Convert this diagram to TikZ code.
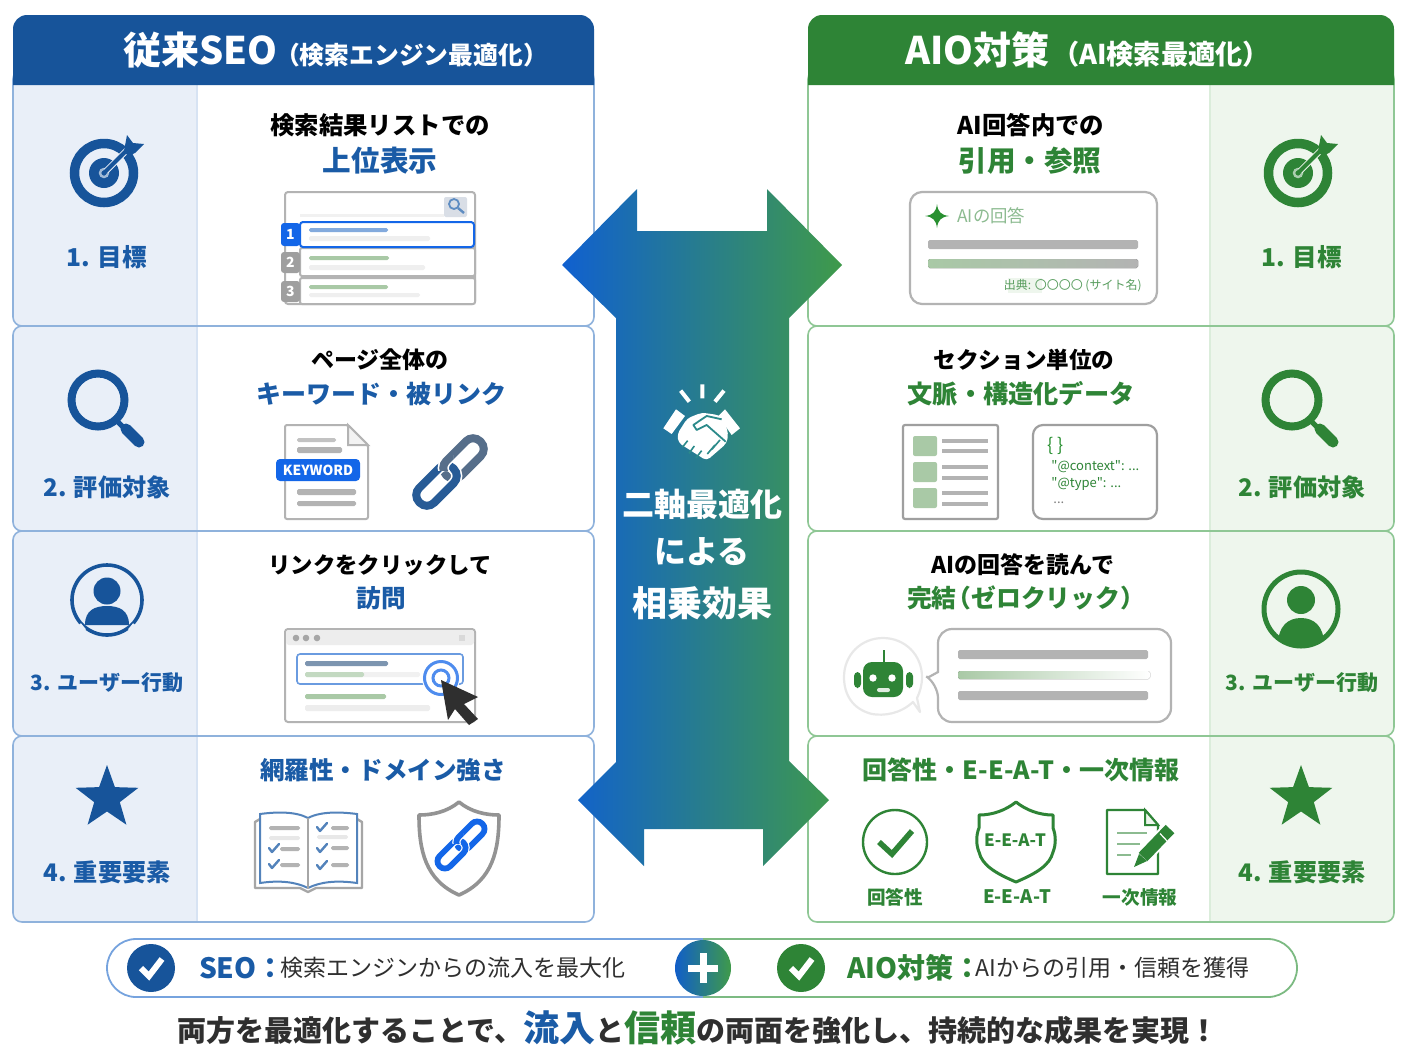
\documentclass[tikz,border=0pt]{standalone}
\usepackage{fontspec}
\setmainfont{Noto Sans CJK JP}
\newfontfamily\plainjp{Noto Sans CJK JP}
\usetikzlibrary{shapes.geometric}
\definecolor{seo}{HTML}{17549A}
\definecolor{seotx}{HTML}{1A5BA6}
\definecolor{aio}{HTML}{2E8436}
\definecolor{seoline}{HTML}{8FB2DC}
\definecolor{aioline}{HTML}{8FC795}
\definecolor{seoside}{HTML}{E9EFF8}
\definecolor{aioside}{HTML}{EEF6ED}
\definecolor{grayln}{HTML}{B3B3B3}
\definecolor{grayl}{HTML}{E8E8E8}
\definecolor{hiblue}{HTML}{1366E8}
\definecolor{softgreen}{HTML}{A9C9A6}
\definecolor{ink}{HTML}{2F2F2F}
\definecolor{arrowl}{HTML}{1060D0}
\definecolor{arrowm}{HTML}{2B8A8A}
\definecolor{arrowr}{HTML}{3F9A4A}
\newcommand\fz[1]{\fontsize{#1pt}{#1pt}\selectfont}
\tikzset{
  lbl/.style={inner sep=0pt,outer sep=0pt,font=\bfseries},
  rowline/.style={line width=0.8pt},
  frame/.style={draw=grayln,line width=1pt,fill=white},
}
% bar from x0,y0 to x1,y1
\newcommand\mybar[5]{\fill[#5,rounded corners=0.8pt] (#1,#2) rectangle (#3,#4);}
\newcommand\icontarget[4]{%
 \begin{scope}[shift={(#1,#2)}]
  \draw[#3,line width=4.75pt] (0,0) circle (29.5);
  \fill[#3] (0,0) circle (15);
  \draw[white!60!#3,line width=1.2pt] (0,0) circle (4);
  \draw[#4,line width=3pt] (2,-2) -- (44,-44);
  \draw[#3,line width=2pt] (0,0) -- (28,-28);
  \fill[#3] (20,-22) -- (23,-38) -- (29,-30) -- (40,-29) -- (31,-20) -- (24,-17) -- cycle;
 \end{scope}}
\newcommand\iconmag[3]{%
 \begin{scope}[shift={(#1,#2)}]
  \draw[#3,line width=4pt] (0,0) circle (26.5);
  \draw[#3,line width=2.5pt] (18,20) -- (28,30);
  \draw[#3,line width=5.5pt,line cap=round] (28,29) -- (41,42);
 \end{scope}}
\newcommand\iconstar[4]{\node[star,star points=5,star point ratio=2.45,fill=#4,minimum size=33pt,inner sep=0pt] (#1) at (#2,#3) {};}
\newcommand\iconlink[6]{% cx cy scale upper lower stroke(pt)
 \begin{scope}[shift={(#1,#2)},scale=#3]
  \begin{scope}[shift={(13.5,-13.5)},rotate=45]
   \draw[#4,line width=#6,rounded corners=#6*1.25] (-24,-10.5) rectangle (24,10.5);
  \end{scope}
  \begin{scope}[shift={(-13.5,13.5)},rotate=45]
   \draw[white,line width=#6*1.4,rounded corners=#6*1.25] (-24,-10.5) rectangle (24,10.5);
   \draw[#5,line width=#6,rounded corners=#6*1.25] (-24,-10.5) rectangle (24,10.5);
  \end{scope}
  \begin{scope}
   \clip (-14,-17) rectangle (3,-2);
   \begin{scope}[shift={(13.5,-13.5)},rotate=45]
    \draw[white,line width=#6*1.4,rounded corners=#6*1.25] (-24,-10.5) rectangle (24,10.5);
    \draw[#4,line width=#6,rounded corners=#6*1.25] (-24,-10.5) rectangle (24,10.5);
   \end{scope}
  \end{scope}
 \end{scope}}
\newcommand\chk[3]{\draw[#3,line width=1.2pt,line cap=round,line join=round] (#1,#2) -- (#1+3,#2+4) -- (#1+10,#2-4);}
\begin{document}
\begin{tikzpicture}[x=0.5pt,y=-0.5pt]
\useasboundingbox (0,0) rectangle (1408,1056);
\fill[white] (0,0) rectangle (1408,1056);

% ---------- left rows
\foreach \ya/\yb in {70/326,326/531,531/736,736/922}{
 \begin{scope}
  \clip[rounded corners=4.5pt] (13,\ya) rectangle (594,\yb);
  \fill[seoside] (13,\ya) rectangle (197,\yb);
  \draw[seoside!80!seoline,line width=0.6pt] (197,\ya) -- (197,\yb);
 \end{scope}
 \draw[seoline,rowline,rounded corners=4.5pt] (13,\ya) rectangle (594,\yb);
}
% ---------- right rows
\foreach \ya/\yb in {70/326,326/531,531/736,736/922}{
 \begin{scope}
  \clip[rounded corners=4.5pt] (808,\ya) rectangle (1394,\yb);
  \fill[aioside] (1210,\ya) rectangle (1394,\yb);
  \draw[aioside!80!aioline,line width=0.6pt] (1210,\ya) -- (1210,\yb);
 \end{scope}
 \draw[aioline,rowline,rounded corners=4.5pt] (808,\ya) rectangle (1394,\yb);
}
% ---------- headers
\fill[seo] (13,85) -- (13,35) [rounded corners=7pt] -- (13,15) -- (594,15) [sharp corners] -- (594,85) -- cycle;
\fill[aio] (808,85) -- (808,35) [rounded corners=7pt] -- (808,15) -- (1394,15) [sharp corners] -- (1394,85) -- cycle;
\node[lbl,text=white,anchor=base west] (hl) at (123,64) {\fz{19}従来SEO};
\node[lbl,text=white,anchor=base west] (hls) at (275,64) {\fz{12.4}（検索エンジン最適化）};
\node[lbl,text=white,anchor=base west] (hr) at (905,64) {\fz{19}AIO対策};
\node[lbl,text=white,anchor=base west] (hrs) at (1052,64) {\fz{13.6}（AI検索最適化）};

% ---------- side icons left
\icontarget{104}{173}{seo}{seoside}
\iconmag{98}{400}{seo}
\draw[seo,line width=1.8pt] (107,600) circle (35);
\fill[seo] (107,591) circle (13.5);
\fill[seo] (85,625) .. controls (85,610) and (95,606) .. (107,606) .. controls (119,606) and (129,610) .. (129,625) -- cycle;
\draw[seoside,line width=1.2pt] (80,624) -- (85,630) (134,624) -- (129,630);
\iconstar{sl}{107}{798}{seo}
\node[lbl,text=seotx] (sl1) at (107,257) {\fz{12.3}1. 目標};
\node[lbl,text=seotx] (sl2) at (107,487) {\fz{12.1}2. 評価対象};
\node[lbl,text=seotx] (sl3) at (107,683) {\fz{10.5}3. ユーザー行動};
\node[lbl,text=seotx] (sl4) at (107,872) {\fz{12.1}4. 重要要素};

% ---------- side icons right
\icontarget{1298}{173}{aio}{aioside}
\iconmag{1292}{400}{aio}
\begin{scope}
 \clip (1301,609) circle (37);
 \fill[aio] (1301,600) circle (14);
 \fill[aio] (1278,645) .. controls (1278,626) and (1288,618) .. (1301,618) .. controls (1314,618) and (1324,626) .. (1324,645) -- cycle;
\end{scope}
\draw[aio,line width=2.5pt] (1301,609) circle (37);
\iconstar{sr}{1301}{798}{aio}
\node[lbl,text=aio] (sr1) at (1302,257) {\fz{12.3}1. 目標};
\node[lbl,text=aio] (sr2) at (1302,487) {\fz{12.1}2. 評価対象};
\node[lbl,text=aio] (sr3) at (1302,683) {\fz{10.5}3. ユーザー行動};
\node[lbl,text=aio] (sr4) at (1302,872) {\fz{12.1}4. 重要要素};

% ---------- left titles
\node[lbl] (a1) at (380,125) {\fz{12.2}検索結果リストでの};
\node[lbl,text=seotx] (a2) at (380,161) {\fz{14.3}上位表示};
\node[lbl] (b1) at (380,360) {\fz{11.5}ページ全体の};
\node[lbl,text=seotx] (b2) at (381,394) {\fz{12.5}キーワード・被リンク};
\node[lbl] (c1) at (380,565) {\fz{11.2}リンクをクリックして};
\node[lbl,text=seotx] (c2) at (381,598) {\fz{12.3}訪問};
\node[lbl,text=seotx] (d1) at (383,770) {\fz{12.3}網羅性・ドメイン強さ};

% ---------- right titles
\node[lbl] (e1) at (1031,125) {\fz{12.2}AI回答内での};
\node[lbl,text=aio] (e2) at (1030,161) {\fz{14.3}引用・参照};
\node[lbl] (f1) at (1024,360) {\fz{11.3}セクション単位の};
\node[lbl,text=aio] (f2) at (1021,394) {\fz{12.6}文脈・構造化データ};
\node[lbl] (g1) at (1023,565) {\fz{11.5}AIの回答を読んで};
\node[lbl,text=aio] (g2) at (1026,598) {\fz{12.4}完結\hspace{-5pt}（ゼロクリック）};
\node[lbl,text=aio] (h1) at (1021,770) {\fz{12.5}回答性・E-E-A-T・一次情報};

% ---------- SERP
\draw[grayln,line width=1pt,fill=white,rounded corners=1.5pt] (285,192) rectangle (475,304);
\fill[grayl!60] (300,214) rectangle (444,217);
\fill[seoside!85!gray,rounded corners=1pt] (444,197) rectangle (467,217);
\draw[seoline!60!seo,line width=0.9pt] (454,204) circle (5);
\draw[seoline!60!seo,line width=1.2pt] (458,208) -- (464,213);
\draw[frame,rounded corners=1pt] (300,248) rectangle (475,276);
\draw[frame,rounded corners=1pt] (300,278) rectangle (475,304);
\draw[hiblue,line width=1pt,fill=white,rounded corners=1.5pt] (300,222) rectangle (474,247);
\fill[hiblue,rounded corners=1.5pt] (281,223) rectangle (300,246);
\fill[gray!75,rounded corners=1.5pt] (281,252) rectangle (300,273);
\fill[gray!75,rounded corners=1.5pt] (281,281) rectangle (300,302);
\node[lbl,text=white] (n1) at (290.5,234.5) {\fz{7}1};
\node[lbl,text=white] (n2) at (290.5,262.5) {\fz{7}2};
\node[lbl,text=white] (n3) at (290.5,291.5) {\fz{7}3};
\mybar{309}{228}{388}{232}{seoline!90!hiblue}
\mybar{309}{236}{430}{241}{grayl!70}
\mybar{309}{256}{389}{260}{softgreen}
\mybar{309}{265}{425}{270}{grayl!70}
\mybar{309}{285}{388}{289}{softgreen}
\mybar{309}{293}{420}{297}{grayl!70}

% ---------- keyword document
\draw[frame,rounded corners=1pt] (285,425) -- (348,425) -- (368,445) -- (368,519) -- (285,519) -- cycle;
\draw[grayln,line width=1pt,fill=grayl!50] (348,425) -- (348,445) -- (368,445) -- cycle;
\mybar{297}{438}{336}{442}{grayln!80}
\mybar{297}{447}{342}{453}{grayln}
\mybar{297}{489}{356}{495}{grayln}
\mybar{297}{501}{356}{506}{grayln}
\fill[hiblue,rounded corners=2pt] (276,459) rectangle (360,481);
\node[lbl,text=white] (kw) at (318,470) {\fz{6.9}KEYWORD};
\iconlink{450}{472}{1}{gray!60!seo}{seo!85!gray}{4pt}

% ---------- browser
\draw[frame,rounded corners=1.5pt] (285,629) rectangle (475,722);
\fill[grayl!80,rounded corners=1.5pt] (286,630) rectangle (474,645);
\fill[gray!70] (296,638) circle (3.3) (306,638) circle (3.3) (317,638) circle (3.3);
\fill[gray!30] (459,635) rectangle (465,641);
\draw[seoline!70!hiblue,line width=0.8pt,fill=white,rounded corners=1.5pt] (297,654) rectangle (463,684);
\mybar{305}{661}{388}{666}{seo!55!gray!70}
\mybar{305}{672}{420}{677}{grayl!60}
\mybar{305}{672}{364}{677}{softgreen!70}
\mybar{305}{694}{386}{699}{softgreen}
\mybar{305}{705}{430}{711}{grayl!80}
\draw[white,line width=1pt,fill=white] (441,678) circle (18);
\draw[hiblue!75,line width=1.5pt] (441,678) circle (16.5);
\draw[hiblue!75,line width=1.5pt] (441,678) circle (8);
\fill[ink] (441,680) -- (478,697) -- (464,704) -- (478,719) -- (469,725) -- (455,709) -- (448,720) -- cycle;

% ---------- open book
\draw[gray!70,line width=1.2pt,fill=white,line join=round] (260,819) -- (255,822) -- (255,888) -- (300,888) -- (308,892) -- (316,888) -- (362,888) -- (362,822) -- (357,819);
\draw[seoline!50!seo,line width=1pt,fill=white] (308,818) .. controls (295,811) and (275,812) .. (260,814) -- (260,883) .. controls (280,880) and (296,882) .. (308,888) .. controls (320,882) and (336,880) .. (357,883) -- (357,814) .. controls (342,812) and (321,811) .. (308,818) -- cycle;
\draw[gray!70,line width=1.2pt] (308,818) -- (308,889);
\mybar{269}{826}{300}{830}{grayln}
\mybar{269}{836}{300}{840}{grayl}
\mybar{280}{847}{300}{851}{grayln}
\mybar{280}{863}{300}{867}{grayln}
\mybar{331}{826}{349}{830}{grayln}
\mybar{317}{835}{348}{839}{grayl}
\mybar{331}{846}{349}{850}{grayln}
\mybar{331}{863}{349}{867}{grayln}
\chk{269}{848}{seoline!50!seo}
\chk{269}{864}{seoline!50!seo}
\chk{317}{827}{seoline!50!seo}
\chk{317}{848}{seoline!50!seo}
\chk{317}{865}{seoline!50!seo}

% ---------- link shield
\draw[gray!85,line width=1.8pt,fill=white,line join=round] (459,802) .. controls (447,812) and (432,815) .. (419,815) .. controls (419,850) and (425,880) .. (459,895) .. controls (493,880) and (499,850) .. (499,815) .. controls (486,815) and (471,812) .. (459,802) -- cycle;
\iconlink{461}{845}{0.7}{hiblue}{hiblue}{2.9pt}

% ---------- AI answer card
\draw[grayln,line width=1.1pt,fill=white,rounded corners=6pt] (910,192) rectangle (1157,304);
\fill[aio!90!green] (937,204) .. controls (938,212) and (941,215) .. (949,216) .. controls (941,217) and (938,220) .. (937,228) .. controls (936,220) and (933,217) .. (925,216) .. controls (933,215) and (936,212) .. (937,204) -- cycle;
\node[inner sep=0pt,anchor=west,text=aio!55] (ans) at (957,216) {\fz{8.7}AIの回答};
\mybar{928}{240}{1138}{249}{grayln}
\fill[left color=softgreen,right color=grayln,rounded corners=0.8pt] (928,259) rectangle (1138,268);
\fill[aioside] (1008,278) rectangle (1042,293);
\node[inner sep=0pt,anchor=east,text=aio!80] (cite) at (1142,285.5) {\fz{6}出典: 〇〇〇〇 (サイト名)};

% ---------- structured data
\draw[gray!75,line width=1.1pt,fill=white,rounded corners=1pt] (903,425) rectangle (998,519);
\foreach \yy in {436,462,488}{\fill[softgreen,rounded corners=1pt] (913,\yy) rectangle (937,\yy+20);}
\foreach \yy in {441,451,467,478,493,504}{\fill[grayln] (942,\yy-2.3) rectangle (988,\yy+2.3);}
\draw[gray!75,line width=1.1pt,fill=white,rounded corners=5pt] (1033,425) rectangle (1157,519);
\node[inner sep=0pt,anchor=west,text=aio!90!green] (js1) at (1047,446) {\fz{9}\{ \}};
\node[inner sep=0pt,anchor=west,text=aio,font=\plainjp] (js2) at (1051,467) {\fz{6.5}"@context": ...};
\node[inner sep=0pt,anchor=west,text=aio,font=\plainjp] (js3) at (1051,484) {\fz{6.5}"@type": ...};
\node[inner sep=0pt,anchor=west,text=gray] (js4) at (1053,503) {\fz{6.5}...};

% ---------- robot & speech bubble
\draw[grayl,line width=1.1pt,fill=white,line join=round] (913,702) .. controls (900,714) and (884,716) .. (872,714) .. controls (852,709) and (844,694) .. (844,677) .. controls (844,655) and (861,638) .. (883,638) .. controls (905,638) and (922,655) .. (922,677) .. controls (922,685) and (920,692) .. (917,698) -- (920,712) -- cycle;
\draw[aio,line width=1pt] (884,650) -- (884,662);
\fill[aio,rounded corners=4.5pt] (863,662) rectangle (903,697);
\fill[aio,rounded corners=2pt] (854,672) rectangle (861,688);
\fill[aio,rounded corners=2pt] (906,672) rectangle (913,688);
\fill[white] (873,678) circle (3.7) (892,678) circle (3.7);
\fill[white!85!aio,rounded corners=1pt] (877,688) rectangle (890,692);
\draw[grayln,line width=1.1pt,fill=white,rounded corners=7pt] (1000,629) -- (1171,629) -- (1171,722) -- (938,722) -- (938,684) [sharp corners] -- (928,677.5) -- (938,672) [rounded corners=7pt] -- (938,629) -- cycle;
\mybar{958}{650}{1148}{659}{grayln}
\fill[left color=softgreen,right color=white,rounded corners=0.8pt] (958,671) rectangle (1150,679);
\mybar{958}{691}{1148}{700}{grayln}

% ---------- bottom right icons
\draw[aio,line width=1.2pt] (895,842) circle (32);
\draw[aio,line width=2.8pt] (879,842) -- (892,854) -- (912,831);
\node[lbl,text=aio] (i1) at (895,897) {\fz{9.3}回答性};
\draw[aio,line width=1.5pt,fill=white,line join=round] (1016,802) .. controls (1006,810) and (993,815) .. (979,815) -- (979,828) .. controls (976,835) and (976,845) .. (979,852) .. controls (982,865) and (995,873) .. (1016,882) .. controls (1037,873) and (1050,865) .. (1053,852) .. controls (1056,845) and (1056,835) .. (1053,828) -- (1053,815) .. controls (1039,815) and (1026,810) .. (1016,802) -- cycle;
\node[lbl,text=aio] (i2s) at (1015,840) {\fz{8.5}E-E-A-T};
\node[lbl,text=aio] (i2) at (1017,897) {\fz{9.3}E-E-A-T};
\draw[aio,line width=1.2pt,fill=white,line join=round] (1107,810) -- (1145,810) -- (1158,825) -- (1158,874) -- (1107,874) -- cycle;
\draw[aio,line width=1pt,fill=aioside] (1145,810) -- (1145,825) -- (1158,825) -- cycle;
\draw[aio!55,line width=1.3pt] (1117,833) -- (1147,833) (1117,844) -- (1140,844) (1117,855) -- (1131,855);
\draw[white,line width=8pt] (1142,858) -- (1170,829);
\draw[aio,line width=6pt] (1143,857) -- (1170,829);
\fill[aio] (1139,854) -- (1147,861) -- (1134,867) -- cycle;
\draw[white,line width=0.6pt] (1160,833.5) -- (1168,842);
\node[lbl,text=aio] (i3) at (1140,897) {\fz{9.3}一次情報};

% ---------- centre double arrow
\shade[left color=arrowl,middle color=arrowm,right color=arrowr]
 (562,265) -- (637,189) -- (637,231) -- (767,231) -- (767,189) -- (842,265) -- (789,318) -- (789,761) -- (829,800) -- (763,866) -- (763,829) -- (644,829) -- (644,866) -- (578,800) -- (616,762) -- (616,318) -- cycle;
\begin{scope}[shift={(550,170)},scale=0.3333]
 \draw[white,line width=2pt] (457,643) -- (457,685) (392,662) -- (418,695) (522,662) -- (495,695);
 \fill[white] (340,775) -- (378,718) -- (405,738) -- (365,792) -- cycle;
 \fill[white] (525,718) -- (570,775) -- (545,795) -- (505,738) -- cycle;
 \fill[white,rounded corners=2pt] (382,792) -- (412,745) -- (455,728) -- (505,735) -- (520,745) -- (535,790) -- (530,820) -- (470,872) -- (385,818) -- cycle;
 \draw[arrowm,line width=0.9pt,line join=round] (515,748) -- (470,738) -- (430,765) -- (440,780) -- (470,765) -- (527,815);
 \draw[arrowm,line width=0.8pt] (413,812) -- (397,832) (433,828) -- (417,850) (455,842) -- (438,864) (495,825) -- (472,852) (510,810) -- (486,838);
\end{scope}
\node[lbl,text=white] (m1) at (702,504) {\fz{16}二軸最適化};
\node[lbl,text=white] (m2) at (702,552) {\fz{16}による};
\node[lbl,text=white] (m3) at (702,603) {\fz{17.5}相乗効果};

% ---------- pill
\draw[seoline!80!hiblue,line width=0.9pt,rounded corners=14.5pt] (703,939) -- (107,939) -- (107,997) -- (703,997);
\draw[aioline!80!aio,line width=0.9pt,rounded corners=14.5pt] (703,939) -- (1297,939) -- (1297,997) -- (703,997);
\fill[seo] (151,968) circle (24);
\fill[aio] (801,968) circle (24);
\shade[left color=arrowl!85!seo,right color=arrowr] (703,968) circle (28);
\draw[white,line width=3pt] (141,968) -- (149,976) -- (162,959);
\draw[white,line width=3pt] (791,968) -- (799,976) -- (812,959);
\draw[white,line width=3.5pt] (703,953) -- (703,983) (688,968) -- (718,968);
\node[lbl,anchor=west,text=seotx] (p1) at (199,968) {\fz{14}SEO：};
\node[inner sep=0pt,anchor=west,text=ink] (p2) at (280,968) {\fz{11.5}検索エンジンからの流入を最大化};
\node[lbl,anchor=west,text=aio] (p3) at (847,968) {\fz{14}AIO対策：};
\node[inner sep=0pt,anchor=west,text=ink] (p4) at (975,968) {\fz{11.5}AIからの引用・信頼を獲得};

% ---------- closing line
\node[lbl,text=ink] (foot) at (698,1028) {\fz{14.5}両方を最適化することで、{\fz{18}\color{seotx}流入}と{\fz{18}\color{aio}信頼}の両面を強化し、持続的な成果を実現！};
\end{tikzpicture}
\end{document}
